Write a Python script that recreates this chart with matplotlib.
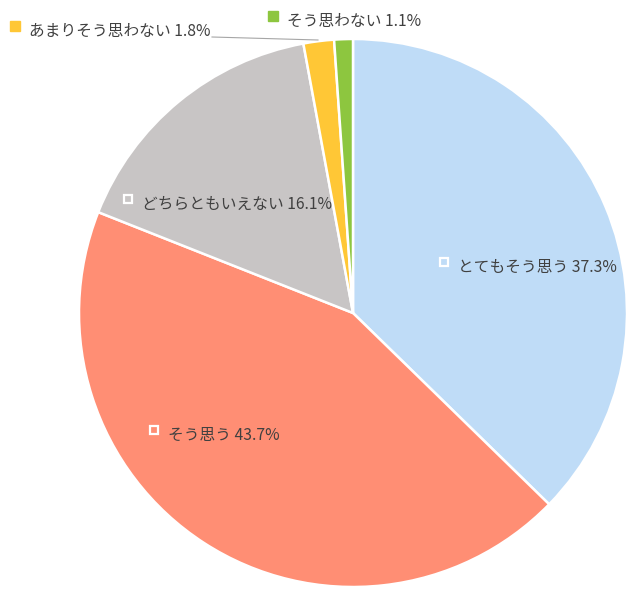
import matplotlib
matplotlib.use("Agg")
import matplotlib.pyplot as plt

plt.rcParams['font.family'] = ['Noto Sans CJK JP', 'DejaVu Sans']

categories = ["とてもそう思う", "そう思う", "どちらともいえない", "あまりそう思わない", "そう思わない"]
values = [37.3, 43.7, 16.1, 1.8, 1.1]
colors = ["#BFDCF7", "#FF8E74", "#C8C5C5", "#FFC736", "#8DC63F"]

W, H = 627, 590
cx, cy, R = 353, 313, 274

fig = plt.figure(figsize=(W / 100, H / 100), dpi=100)
ax = fig.add_axes([(cx - R) / W, (H - cy - R) / H, 2 * R / W, 2 * R / H])
ax.pie(values, colors=colors, startangle=90, counterclock=False,
       wedgeprops=dict(edgecolor="white", linewidth=1.8))
ax.set_xlim(-1, 1)
ax.set_ylim(-1, 1)
ax.set_aspect("equal")
ax.axis("off")

def d(px, py):
    return (px - cx) / R, (cy - py) / R

# label layout (pixel positions of text start, centre y) and whether inside the slice
layout = [(458, 267, True), (168, 435, True), (142, 204, True), (29, 31, False), (287, 21, False)]

for cat, val, col, (tx, ty, inside) in zip(categories, values, colors, layout):
    x, y = d(tx, ty)
    ax.text(x, y, f"{cat} {val:.1f}%", fontsize=11.3, color="#404040",
            va="center", ha="left", clip_on=False)
    mx, my = d(tx - 14, ty - 5)
    if inside:
        ax.plot([mx], [my], marker="s", markersize=6, markerfacecolor=col,
                markeredgecolor="white", markeredgewidth=1.6, clip_on=False)
    else:
        ax.plot([mx], [my], marker="s", markersize=6.5, markerfacecolor=col,
                markeredgecolor=col, clip_on=False)

# leader line for the small yellow slice
x0, y0 = d(212, 37)
x1, y1 = d(318, 40)
ax.plot([x0, x1], [y0, y1], color="#A6A6A6", lw=0.8, clip_on=False)

fig.savefig("out.png", dpi=100, facecolor="white")
